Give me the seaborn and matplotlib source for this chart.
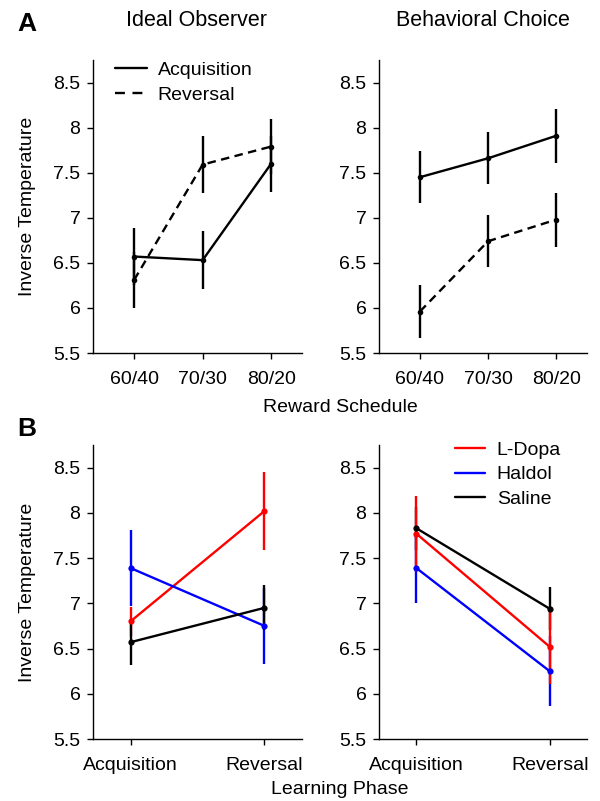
import numpy as np
import pandas as pd
import seaborn as sns
import matplotlib
matplotlib.use("Agg")
import matplotlib.pyplot as plt
from matplotlib.lines import Line2D
from matplotlib.ticker import FuncFormatter

# ---- data ----
schedules = ["60/40", "70/30", "80/20"]
ideal_acq = [6.57, 6.53, 7.60]
ideal_acq_err = [0.32, 0.32, 0.31]
ideal_rev = [6.31, 7.59, 7.79]
ideal_rev_err = [0.31, 0.32, 0.31]
behav_acq = [7.45, 7.66, 7.91]
behav_acq_err = [0.29, 0.29, 0.30]
behav_rev = [5.96, 6.74, 6.98]
behav_rev_err = [0.29, 0.29, 0.30]

phases = ["Acquisition", "Reversal"]
drugs = ["L-Dopa", "Haldol", "Saline"]
drug_colors = {"L-Dopa": "#ff0000", "Haldol": "#0000ff", "Saline": "#000000"}
left_ldopa = [6.80, 8.02]
left_ldopa_err = [0.16, 0.43]
left_haldol = [7.39, 6.75]
left_haldol_err = [0.42, 0.42]
left_saline = [6.57, 6.95]
left_saline_err = [0.25, 0.25]
right_ldopa = [7.77, 6.52]
right_ldopa_err = [0.42, 0.41]
right_haldol = [7.39, 6.25]
right_haldol_err = [0.39, 0.39]
right_saline = [7.83, 6.94]
right_saline_err = [0.24, 0.24]

yticks = [5.5, 6, 6.5, 7, 7.5, 8, 8.5]

sns.set_style("ticks", {"axes.edgecolor": "black", "xtick.color": "black",
                        "ytick.color": "black", "text.color": "black",
                        "axes.labelcolor": "black"})
plt.rcParams["font.family"] = ["Liberation Sans", "DejaVu Sans"]

fig = plt.figure(figsize=(6, 8.01), dpi=100)


def px_axes(left, top, right, bottom):
    return fig.add_axes([left / 600, 1 - bottom / 801, (right - left) / 600, (bottom - top) / 801])


ax_tl = px_axes(93, 60, 302, 353)
ax_tr = px_axes(379, 60, 587, 353)
ax_bl = px_axes(93, 445, 302, 739)
ax_br = px_axes(379, 445, 587, 739)

LW = 1.7
DASH = (3.6, 2.3)


def style_axes(ax, xlim):
    ax.set_xlim(*xlim)
    ax.set_ylim(5.5, 8.75)
    ax.set_yticks(yticks)
    ax.yaxis.set_major_formatter(FuncFormatter(lambda v, p: f"{v:g}"))
    ax.tick_params(direction="out", length=4, width=1, labelsize=14, pad=5)
    ax.tick_params(axis="x", pad=9)
    for s in ["left", "bottom"]:
        ax.spines[s].set_linewidth(1.0)
    sns.despine(ax=ax)
    ax.set_xlabel("")
    ax.set_ylabel("")


def top_panel(ax, acq, acq_err, rev, rev_err):
    df = pd.DataFrame({"schedule": schedules * 2,
                       "beta": acq + rev,
                       "err": acq_err + rev_err,
                       "phase": ["Acquisition"] * 3 + ["Reversal"] * 3})
    sns.lineplot(data=df, x="schedule", y="beta", style="phase",
                 dashes={"Acquisition": "", "Reversal": DASH}, color="black",
                 lw=LW, marker="o", ms=4, mew=0, legend=False, sort=False, ax=ax)
    for _, g in df.groupby("phase"):
        ax.errorbar(g["schedule"], g["beta"], yerr=g["err"], fmt="none",
                    ecolor="black", elinewidth=LW, capsize=0, zorder=1.5)
    style_axes(ax, (-0.6, 2.45))


def bottom_panel(ax, vals, errs, order):
    df = pd.DataFrame({"phase": phases * 3,
                       "beta": sum(vals, []),
                       "err": sum(errs, []),
                       "drug": [d for d in drugs for _ in phases]})
    sns.lineplot(data=df, x="phase", y="beta", hue="drug", hue_order=drugs,
                 palette=drug_colors, lw=LW, marker="o", ms=4.5, mew=0,
                 legend=False, sort=False, ax=ax)
    for i, d in enumerate(order):
        g = df[df["drug"] == d]
        ax.errorbar(g["phase"], g["beta"], yerr=g["err"], fmt="none",
                    ecolor=drug_colors[d], elinewidth=LW, capsize=0, zorder=1.2 + 0.1 * i)
    style_axes(ax, (-0.28, 1.28))


top_panel(ax_tl, ideal_acq, ideal_acq_err, ideal_rev, ideal_rev_err)
top_panel(ax_tr, behav_acq, behav_acq_err, behav_rev, behav_rev_err)
bottom_panel(ax_bl, [left_ldopa, left_haldol, left_saline],
             [left_ldopa_err, left_haldol_err, left_saline_err],
             ["L-Dopa", "Haldol", "Saline"])
bottom_panel(ax_br, [right_ldopa, right_haldol, right_saline],
             [right_ldopa_err, right_haldol_err, right_saline_err],
             ["Saline", "Haldol", "L-Dopa"])

for ax in [ax_tl, ax_bl]:
    ax.set_ylabel("Inverse Temperature", fontsize=14)
    ax.yaxis.set_label_coords(-0.273, 0.5)

# legends
phase_handles = [Line2D([], [], color="black", lw=LW),
                 Line2D([], [], color="black", lw=LW, dashes=(4.2, 3.2))]
ax_tl.legend(phase_handles, phases, loc="upper left", bbox_to_anchor=(0.105, 0.996),
             frameon=False, fontsize=14, borderpad=0, borderaxespad=0,
             handlelength=1.65, handletextpad=0.55, labelspacing=0.38)
drug_handles = [Line2D([], [], color=drug_colors[d], lw=LW) for d in drugs]
ax_br.legend(drug_handles, drugs, loc="upper left", bbox_to_anchor=(0.365, 1.013),
             frameon=False, fontsize=14, borderpad=0, borderaxespad=0,
             handlelength=1.55, handletextpad=0.6, labelspacing=0.36)

# figure texts
fig.text(196 / 600, 1 - 21 / 801, "Ideal Observer", fontsize=15.5, ha="center", va="center")
fig.text(483 / 600, 1 - 21 / 801, "Behavioral Choice", fontsize=15.5, ha="center", va="center")
fig.text(340 / 600, 1 - 407 / 801, "Reward Schedule", fontsize=14, ha="center", va="center")
fig.text(340 / 600, 1 - 789 / 801, "Learning Phase", fontsize=14, ha="center", va="center")
fig.text(27 / 600, 1 - 24 / 801, "A", fontsize=19, fontweight="bold", ha="center", va="center")
fig.text(27 / 600, 1 - 429 / 801, "B", fontsize=19, fontweight="bold", ha="center", va="center")

fig.savefig("out.png", dpi=100, facecolor="white")
